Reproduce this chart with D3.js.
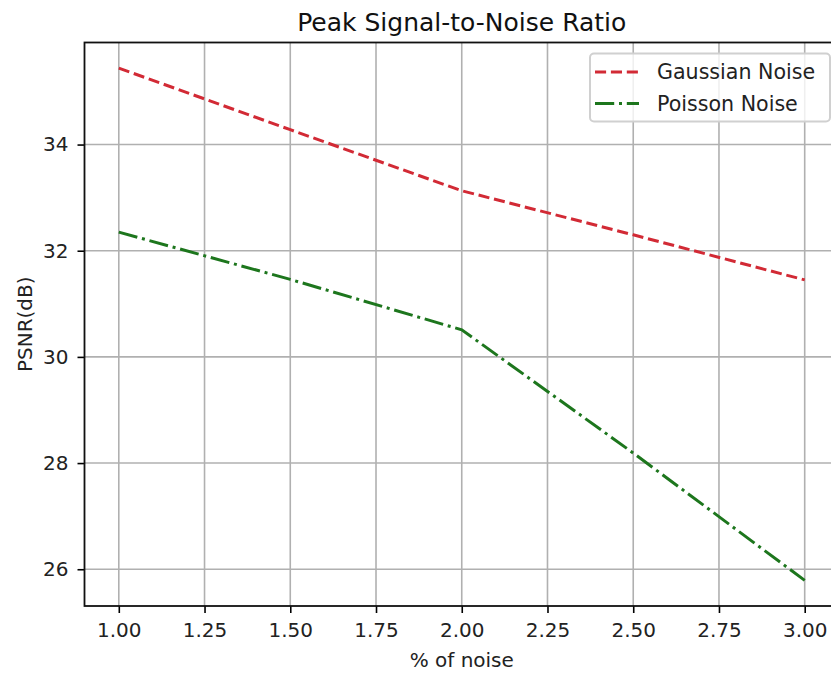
<!DOCTYPE html>
<html>
<head>
<meta charset="utf-8">
<script src="https://cdn.jsdelivr.net/npm/d3@7"></script>
<style>
  html, body { margin: 0; padding: 0; background: #fff; overflow: hidden; }
  svg { display: block; font-family: "DejaVu Sans", sans-serif; }
</style>
</head>
<body>
<svg id="chart" width="831" height="675"></svg>
<script>
// ---- data ----
const noiseLevels = [1.0, 1.5, 2.0, 2.5, 3.0];
const gaussianPSNR = [35.44, 34.28, 33.13, 32.30, 31.45];
const poissonPSNR  = [32.35, 31.46, 30.51, 28.19, 25.79];
const xTickValues = [1.00, 1.25, 1.50, 1.75, 2.00, 2.25, 2.50, 2.75, 3.00];
const yTickValues = [26, 28, 30, 32, 34];
const seriesNames = ["Gaussian Noise", "Poisson Noise"];
const titleText = "Peak Signal-to-Noise Ratio";
const xLabelText = "% of noise";
const yLabelText = "PSNR(dB)";

// ---- layout ----
const svg = d3.select("#chart");
const pL = 84.5, pT = 42.5, pR = 839, pB = 606;
const fs = 20;

const xExt = d3.extent(noiseLevels);
const xPad = (xExt[1] - xExt[0]) * 0.05;
const allY = gaussianPSNR.concat(poissonPSNR);
const yExt = d3.extent(allY);
const yPad = (yExt[1] - yExt[0]) * 0.05;

const x = d3.scaleLinear().domain([xExt[0] - xPad, xExt[1] + xPad]).range([pL, pR]);
const y = d3.scaleLinear().domain([yExt[0] - yPad, yExt[1] + yPad]).range([pB, pT]);

svg.append("rect").attr("width", 831).attr("height", 675).attr("fill", "#fff");

// grid
const grid = svg.append("g");
grid.selectAll(".gx").data(xTickValues).enter().append("line")
  .attr("x1", d => x(d)).attr("x2", d => x(d)).attr("y1", pT).attr("y2", pB)
  .attr("stroke", "#b0b0b0").attr("stroke-width", 1.6);
grid.selectAll(".gy").data(yTickValues).enter().append("line")
  .attr("x1", pL).attr("x2", pR).attr("y1", d => y(d)).attr("y2", d => y(d))
  .attr("stroke", "#b0b0b0").attr("stroke-width", 1.6);

// axes
const xAxis = d3.axisBottom(x).tickValues(xTickValues).tickFormat(d3.format(".2f"))
  .tickSizeInner(7).tickSizeOuter(0).tickPadding(10);
const yAxis = d3.axisLeft(y).tickValues(yTickValues).tickFormat(d3.format("d"))
  .tickSizeInner(7).tickSizeOuter(0).tickPadding(9);

const gx = svg.append("g").attr("transform", `translate(0,${pB})`).call(xAxis);
const gy = svg.append("g").attr("transform", `translate(${pL},0)`).call(yAxis);
[gx, gy].forEach(g => {
  g.select(".domain").remove();
  g.selectAll(".tick line").attr("stroke", "#000").attr("stroke-width", 1.6);
  g.selectAll(".tick text").attr("fill", "#222").attr("font-size", fs)
    .attr("font-family", "DejaVu Sans");
});

// lines
const line = d3.line().x(d => x(d[0])).y(d => y(d[1]));
const gData = noiseLevels.map((v, i) => [v, gaussianPSNR[i]]);
const pData = noiseLevels.map((v, i) => [v, poissonPSNR[i]]);
const lw = 3;
const styles = [
  { color: "#d22a35", dash: [3.7 * lw, 1.6 * lw] },
  { color: "#1d761d", dash: [6.4 * lw, 1.6 * lw, 1 * lw, 1.6 * lw] }
];
[gData, pData].forEach((data, i) => {
  svg.append("path").datum(data).attr("d", line)
    .attr("fill", "none").attr("stroke", styles[i].color)
    .attr("stroke-width", lw).attr("stroke-dasharray", styles[i].dash.join(","));
});

// spines
svg.append("rect").attr("x", pL).attr("y", pT)
  .attr("width", pR - pL).attr("height", pB - pT)
  .attr("fill", "none").attr("stroke", "#111").attr("stroke-width", 1.8);

// title & labels
svg.append("text").attr("x", (pL + pR) / 2).attr("y", pT - 12)
  .attr("text-anchor", "middle").attr("font-size", 25).attr("fill", "#111")
  .text(titleText);
svg.append("text").attr("x", (pL + pR) / 2).attr("y", 667)
  .attr("text-anchor", "middle").attr("font-size", fs).attr("fill", "#222")
  .text(xLabelText);
svg.append("text").attr("transform", `translate(32,${(pT + pB) / 2}) rotate(-90)`)
  .attr("text-anchor", "middle").attr("font-size", fs).attr("fill", "#222")
  .text(yLabelText);

// legend
const legW = 240, legH = 68;
const legX = pR - 9 - legW, legY = pT + 11;
const leg = svg.append("g");
leg.append("rect").attr("x", legX).attr("y", legY).attr("width", legW).attr("height", legH)
  .attr("rx", 4).attr("fill", "#fff").attr("fill-opacity", 0.8)
  .attr("stroke", "#d0d0d0").attr("stroke-width", 2);
seriesNames.forEach((name, i) => {
  const cy = legY + 18.5 + i * 31.5;
  leg.append("line").attr("x1", legX + 5).attr("x2", legX + 49).attr("y1", cy).attr("y2", cy)
    .attr("stroke", styles[i].color).attr("stroke-width", lw)
    .attr("stroke-dasharray", styles[i].dash.join(","));
  leg.append("text").attr("x", legX + 67).attr("y", cy).attr("dy", "0.36em")
    .attr("font-size", 20.6).attr("fill", "#222").text(name);
});
</script>
</body>
</html>
